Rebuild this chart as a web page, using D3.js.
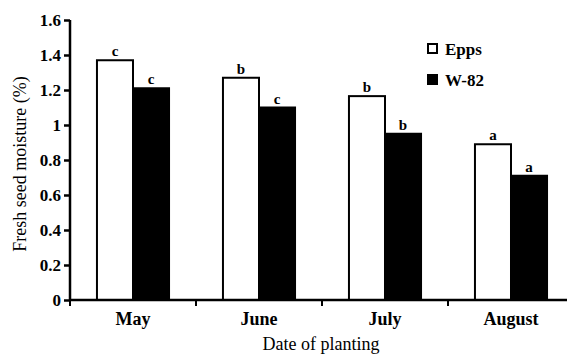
<!DOCTYPE html>
<html>
<head>
<meta charset="utf-8">
<script src="https://cdn.jsdelivr.net/npm/d3@7"></script>
<style>
  body { margin: 0; background: #fff; }
  svg { display: block; }
</style>
</head>
<body>
<div id="chart"></div>
<script>
// data
const months = ['May', 'June', 'July', 'August'];
const series = ['Epps', 'W-82'];
const epps = [1.37, 1.27, 1.165, 0.89];
const w82 = [1.21, 1.10, 0.95, 0.71];
const eppsLetters = ['c', 'b', 'b', 'a'];
const w82Letters = ['c', 'c', 'b', 'a'];
const yTicks = [0, 0.2, 0.4, 0.6, 0.8, 1, 1.2, 1.4, 1.6];

const width = 567;
const height = 354;
const PLOT_LEFT = 70, PLOT_TOP = 20, PLOT_BOTTOM = 300;
const FONT = 'Liberation Serif';

const fills = { 'Epps': '#fff', 'W-82': '#000' };

const rows = months.map((m, i) => ({
    month: m,
    vals: [
        { key: 'Epps', value: epps[i], letter: eppsLetters[i] },
        { key: 'W-82', value: w82[i], letter: w82Letters[i] }
    ]
}));

const x = d3.scaleBand()
    .domain(months)
    .range([PLOT_LEFT, 574])
    .paddingInner(0)
    .paddingOuter(0);

const xInner = d3.scaleBand()
    .domain(series)
    .range([0, x.bandwidth() * 0.572]);

const y = d3.scaleLinear()
    .domain([0, 1.6])
    .range([PLOT_BOTTOM, PLOT_TOP]);

const svg = d3.select('#chart')
    .append('svg')
    .attr('width', width)
    .attr('height', height)
    .attr('font-family', FONT);

const groups = svg.selectAll('g.month')
    .data(rows)
    .enter()
    .append('g')
    .attr('class', 'month')
    .attr('transform', d => `translate(${x(d.month) + (x.bandwidth() - xInner.range()[1]) / 2}, 0)`);

groups.selectAll('rect')
    .data(d => d.vals)
    .enter()
    .append('rect')
    .attr('x', d => xInner(d.key))
    .attr('y', d => y(d.value))
    .attr('width', xInner.bandwidth())
    .attr('height', d => PLOT_BOTTOM - y(d.value))
    .attr('fill', d => fills[d.key])
    .attr('stroke', '#000')
    .attr('stroke-width', 2);

groups.selectAll('text')
    .data(d => d.vals)
    .enter()
    .append('text')
    .text(d => d.letter)
    .attr('x', d => xInner(d.key) + xInner.bandwidth() / 2)
    .attr('y', d => y(d.value) - 4)
    .attr('text-anchor', 'middle')
    .attr('font-family', FONT)
    .attr('font-size', 15)
    .attr('font-weight', 'bold');

// y axis
const yAxis = svg.append('g')
    .attr('transform', `translate(${PLOT_LEFT}, 0)`)
    .call(d3.axisLeft(y).tickValues(yTicks).tickSize(6).tickPadding(3).tickFormat(d3.format('')))
    .attr('font-family', FONT)
    .attr('font-size', 17)
    .attr('font-weight', 'bold');
yAxis.select('.domain').attr('stroke-width', 2.5).attr('d', `M0,${PLOT_TOP}V${PLOT_BOTTOM}`);
yAxis.selectAll('.tick line').attr('stroke-width', 2.5);
yAxis.selectAll('.tick text').attr('fill', '#000').attr('dy', '0.34em');

// x axis
const xAxis = svg.append('g')
    .attr('transform', `translate(0, ${PLOT_BOTTOM})`)
    .call(d3.axisBottom(x).tickSize(0).tickPadding(12))
    .attr('font-family', FONT)
    .attr('font-size', 18)
    .attr('font-weight', 'bold');
xAxis.select('.domain').attr('stroke-width', 2.5).attr('d', `M${PLOT_LEFT},0H${width}`);
xAxis.selectAll('.tick text').attr('fill', '#000');

// tick marks at group edges
svg.selectAll('line.sep')
    .data(months)
    .enter()
    .append('line')
    .attr('class', 'sep')
    .attr('x1', d => x(d))
    .attr('x2', d => x(d))
    .attr('y1', PLOT_BOTTOM)
    .attr('y2', PLOT_BOTTOM + 6)
    .attr('stroke', '#000')
    .attr('stroke-width', 2);

// axis titles
svg.append('text')
    .text('Date of planting')
    .attr('x', 321)
    .attr('y', 350)
    .attr('text-anchor', 'middle')
    .attr('font-family', FONT)
    .attr('font-size', 18);

svg.append('text')
    .text('Fresh seed moisture (%)')
    .attr('transform', 'translate(26, 164) rotate(-90)')
    .attr('text-anchor', 'middle')
    .attr('font-family', FONT)
    .attr('font-size', 18);

// legend
const legend = svg.selectAll('g.legend')
    .data(series)
    .enter()
    .append('g')
    .attr('class', 'legend')
    .attr('transform', (d, i) => `translate(428, ${44 + i * 31})`);

legend.append('rect')
    .attr('width', 9)
    .attr('height', 9)
    .attr('fill', d => fills[d])
    .attr('stroke', '#000')
    .attr('stroke-width', 2);

legend.append('text')
    .text(d => d)
    .attr('x', 17)
    .attr('y', 11)
    .attr('font-family', FONT)
    .attr('font-size', 17)
    .attr('font-weight', 'bold');
</script>
</body>
</html>
